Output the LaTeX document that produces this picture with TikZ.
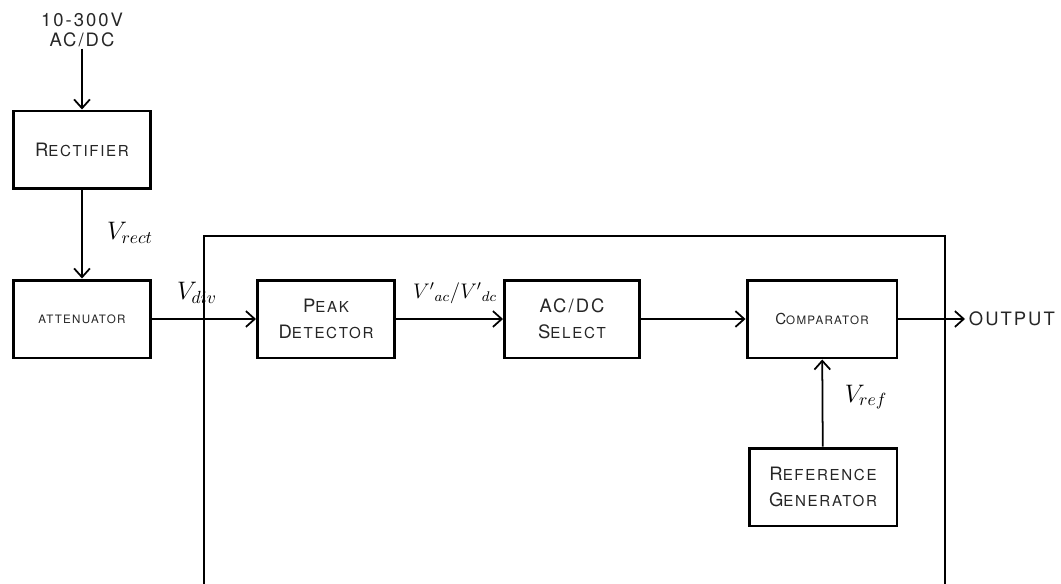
\documentclass[tikz,border=0pt]{standalone}
\usepackage{fontspec}
\setsansfont{TeX Gyre Heros}[LetterSpace=11]
\usetikzlibrary{arrows.meta}
% fake small caps: big first letter, smaller rest
\newcommand\capsA[1]{{\fontsize{10.5}{13}\selectfont #1}}
\newcommand\capsB[1]{{\fontsize{8.6}{13}\selectfont #1}}
\newcommand\capsC[1]{{\fontsize{6.6}{13}\selectfont #1}}

\begin{document}
\begin{tikzpicture}[x=0.02cm,y=-0.02cm,
    block/.style={draw=black, line width=1.7pt, fill=white, minimum width=2.74cm,
        minimum height=1.56cm, align=center, font=\sffamily, text=black!85},
    wire/.style={draw=black, line width=1pt, -{Straight Barb[length=5pt,width=9pt,line width=1pt]}},
    lbl/.style={font=\sffamily, text=black!85, align=center},
    vlbl/.style={inner sep=1pt, font=\Large}]
    \useasboundingbox (0,0) rectangle (1061,584);

    % outer frame (bottom edge cut off)
    \draw[line width=1.1pt] (204,236) rectangle (945,600);

    % blocks
    \node[block, minimum width=2.74cm] (rect) at (82,150) {\capsA{R}\capsB{ECTIFIER}};
    \node[block, minimum width=2.74cm] (att) at (82,319) {\capsC{ATTENUATOR}};
    \node[block, minimum width=2.74cm] (peak) at (326,319) {\capsA{P}\capsB{EAK}\\[3pt]\capsA{D}\capsB{ETECTOR}};
    \node[block, minimum width=2.70cm] (sel) at (572,319) {\capsA{AC/DC}\\[3pt]\capsA{S}\capsB{ELECT}};
    \node[block, minimum width=3.0cm] (comp) at (822,319) {\capsB{C}\capsC{OMPARATOR}};
    \node[block, minimum width=2.96cm] (refgen) at (823,487) {\capsA{R}\capsB{EFERENCE}\\[3pt]\capsA{G}\capsB{ENERATOR}};

    % input and output texts
    \node[lbl, inner sep=1pt] (inp) at (82,30) {\capsA{10-300V}\\[-1pt]\capsA{AC/DC}};
    \node[lbl, anchor=west, inner sep=2pt] (out) at (965,319) {\capsA{OUTPUT}};

    % connections
    \draw[wire] (inp) -- (rect);
    \draw[wire] (rect) -- (att);
    \draw[wire] (att) -- (peak);
    \draw[wire] (peak) -- (sel);
    \draw[wire] (sel) -- (comp);
    \draw[wire] (comp) -- (out);
    \draw[wire] (refgen) -- (comp);

    % signal names
    \node[vlbl] (vrect) at (130,233) {$V_{rect}$};
    \node[vlbl] (vdiv) at (197,293) {$V_{div}$};
    \node[vlbl, font=\large] (vacdc) at (455,293) {$V'{}_{ac}/V'{}_{dc}$};
    \node[vlbl] (vref) at (866,397) {$V_{ref}$};
\end{tikzpicture}
\end{document}
